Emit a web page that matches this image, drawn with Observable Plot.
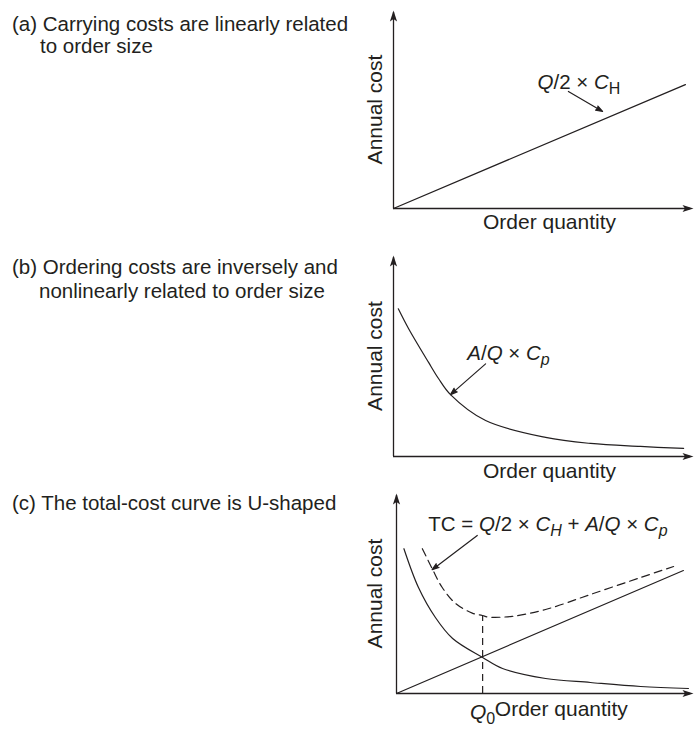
<!DOCTYPE html>
<html><head><meta charset="utf-8">
<script src="https://cdn.jsdelivr.net/npm/d3@7"></script>
<script src="https://cdn.jsdelivr.net/npm/@observablehq/plot@0.6"></script>
<style>
body{margin:0;background:#fff;}
#root{position:relative;width:695px;height:731px;overflow:hidden;font-family:"Liberation Sans",Arial,sans-serif;color:#231f20;}
.t{position:absolute;font-size:20.5px;line-height:22px;white-space:nowrap;}
#root svg{position:absolute;left:0;overflow:visible;}
</style></head><body><div id="root"></div>
<script>
// ---------- data ----------
const titles = [
  ["(a) Carrying costs are linearly related", "to order size"],
  ["(b) Ordering costs are inversely and", "nonlinearly related to order size"],
  ["(c) The total-cost curve is U-shaped"]
];
const xLabel = "Order quantity";
const yLabel = "Annual cost";

// panel (a): carrying cost line
const carryQ = [0, 97.3];
const carryCost = [0, 62.6];
// panel (b): ordering cost curve
const orderQ = [1.6, 5, 11.7, 15, 19, 30.7, 50.7, 65.7, 82.3, 96.7];
const orderCost = [73.5, 63.7, 46.8, 38.8, 30.8, 17.9, 9.5, 6.5, 5.0, 4.0];
// panel (c): ordering, carrying and total cost
const cOrderQ = [2.5, 7.4, 13.1, 18.9, 29, 35.7, 50.2, 65.3, 82.2, 98.3];
const cOrderCost = [72.4, 53, 38, 27.5, 18, 12.5, 7.5, 5.5, 3.5, 2.5];
const cCarryQ = [0, 96.6];
const cCarryCost = [0, 61.5];
const tcQ = [8.7, 12, 15.4, 19.9, 25.5, 28.9, 31, 39, 50.2, 65.3, 82.2, 93.3];
const tcCost = [72.4, 62.5, 53, 45, 40.2, 39, 38.2, 38.6, 42, 49.5, 58, 63.5];
const q0 = 29;
const tcAtQ0 = 39;

// rich labels: [text, style]
const labelA = [["Q","i"],["/2 × ",""],["C","i"],["H","sub"]];
const labelB = [["A","i"],["/",""],["Q","i"],[" × ",""],["C","i"],["p","isub"]];
const labelC = [["TC = ",""],["Q","i"],["/2 × ",""],["C","i"],["H","isub"],[" + ",""],["A","i"],["/",""],["Q","i"],[" × ",""],["C","i"],["p","isub"]];
const labelQ0 = [["Q","i"],["0","sub"]];

// ---------- helpers ----------
const ink = "#231f20";
const font = '"Liberation Sans", Arial, sans-serif';
const pts = (xs, ys) => xs.map((x, i) => ({x, y: ys[i]}));
const plain = segs => segs.map(s => s[0]).join("");
const headSym = {draw(ctx) { ctx.moveTo(0, 0); ctx.lineTo(3.6, 11); ctx.lineTo(0, 8.5); ctx.lineTo(-3.6, 11); ctx.closePath(); }};
const arrowStyle = {x1: "x1", y1: "y1", x2: "x2", y2: "y2", stroke: ink, fill: ink, strokeWidth: 1.2, headLength: 9, headAngle: 38};

function axesMarks(dxLabel, xLabelQ, xLabelDy) {
  return [
    Plot.ruleX([0], {y1: 0, y2: 99, stroke: ink, strokeWidth: 1.3}),
    Plot.ruleY([0], {x1: 0, x2: 99, stroke: ink, strokeWidth: 1.3}),
    Plot.dot([{x: 0, y: 100, r: 0}, {x: 100, y: 0, r: 90}], {x: "x", y: "y", rotate: "r", symbol: headSym, fill: ink, stroke: "none"}),
    Plot.text([yLabel], {frameAnchor: "left", dx: dxLabel, rotate: -90, textAnchor: "middle", fontSize: 21, fill: ink}),
    Plot.text([xLabel], {x: [xLabelQ], frameAnchor: "bottom", dy: xLabelDy, lineAnchor: "bottom", textAnchor: "middle", fontSize: 21, fill: ink})
  ];
}

function rich(svg, cls, segs) {
  const t = svg.querySelector("." + cls + " text");
  if (!t) return;
  t.textContent = "";
  let shifted = false;
  for (const [s, k] of segs) {
    const sp = document.createElementNS("http://www.w3.org/2000/svg", "tspan");
    sp.textContent = s;
    if (k.includes("i")) sp.setAttribute("font-style", "italic");
    if (k.includes("sub")) {
      sp.setAttribute("font-size", "16");
      if (!shifted) sp.setAttribute("dy", "5");
      shifted = true;
    } else if (shifted) {
      sp.setAttribute("dy", "-5");
      shifted = false;
    }
    t.appendChild(sp);
  }
}

function place(svg, top) { svg.style.top = top + "px"; root.appendChild(svg); }

const root = document.getElementById("root");
const common = {width: 695, marginTop: 10, marginRight: 2,
  x: {domain: [0, 100], axis: null}, y: {domain: [0, 100], axis: null},
  style: {fontFamily: font, color: ink, background: "transparent", overflow: "visible"}};

// ---------- panel (a) ----------
const pa = Plot.plot({...common, height: 240, marginBottom: 32, marginLeft: 393,
  marks: [
    ...axesMarks(-18, 52, 20),
    Plot.line(pts(carryQ, carryCost), {x: "x", y: "y", stroke: ink, strokeWidth: 1.3}),
    Plot.arrow([{x1: 58.3, y1: 59.1, x2: 69.7, y2: 49}], arrowStyle),
    Plot.text([plain(labelA)], {x: [48], y: [60.6], textAnchor: "start", lineAnchor: "bottom", fontSize: 20.5, fill: ink, className: "lblA"})
  ]});
rich(pa, "lblA", labelA);
place(pa, 0);

// ---------- panel (b) ----------
const pb = Plot.plot({...common, height: 243, marginBottom: 32, marginLeft: 393,
  marks: [
    ...axesMarks(-18, 52, 21),
    Plot.line(pts(orderQ, orderCost), {x: "x", y: "y", curve: "catmull-rom", stroke: ink, strokeWidth: 1.2}),
    Plot.arrow([{x1: 30.7, y1: 46.1, x2: 19, y2: 30.8}], arrowStyle),
    Plot.text([plain(labelB)], {x: [24.6], y: [47.8], textAnchor: "start", lineAnchor: "bottom", fontSize: 20.5, fill: ink, className: "lblB"})
  ]});
rich(pb, "lblB", labelB);
place(pb, 245);

// ---------- panel (c) ----------
const pc = Plot.plot({...common, height: 248, marginBottom: 38, marginLeft: 396,
  marks: [
    ...axesMarks(-21, 55.5, 22),
    Plot.line(pts(cOrderQ, cOrderCost), {x: "x", y: "y", curve: "catmull-rom", stroke: ink, strokeWidth: 1.2}),
    Plot.line(pts(cCarryQ, cCarryCost), {x: "x", y: "y", stroke: ink, strokeWidth: 1.2}),
    Plot.line(pts(tcQ, tcCost), {x: "x", y: "y", curve: "catmull-rom", stroke: ink, strokeWidth: 1.2, strokeDasharray: "8,5"}),
    Plot.ruleX([q0], {y1: 0, y2: tcAtQ0, stroke: ink, strokeWidth: 1.2, strokeDasharray: "7,5"}),
    Plot.arrow([{x1: 27.2, y1: 79, x2: 12, y2: 61.9}], arrowStyle),
    Plot.text([plain(labelC)], {x: [10.7], y: [81.5], textAnchor: "start", lineAnchor: "bottom", fontSize: 20.5, fill: ink, className: "lblC"}),
    Plot.text([plain(labelQ0)], {x: [q0], frameAnchor: "bottom", dy: 25, textAnchor: "middle", lineAnchor: "bottom", fontSize: 21, fill: ink, className: "lblQ0"})
  ]});
rich(pc, "lblC", labelC);
rich(pc, "lblQ0", labelQ0);
place(pc, 483);

// ---------- titles ----------
const titleTops = [[13, 35], [256, 280], [492]];
const titleLefts = [[12, 40], [12, 39], [12]];
titles.forEach((lines, i) => lines.forEach((s, j) => {
  const d = document.createElement("div");
  d.className = "t";
  d.textContent = s;
  d.style.top = titleTops[i][j] + "px";
  d.style.left = titleLefts[i][j] + "px";
  root.appendChild(d);
}));
</script></body></html>
